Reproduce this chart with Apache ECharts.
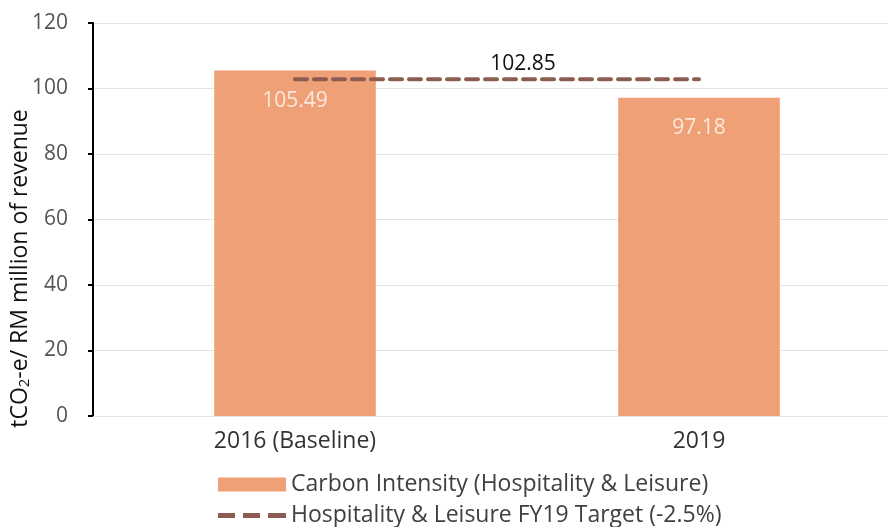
<!DOCTYPE html>
<html>
<head>
<meta charset="utf-8">
<script src="https://cdn.jsdelivr.net/npm/echarts@6/dist/echarts.min.js"></script>
<style>
  html, body { margin: 0; padding: 0; background: #ffffff; }
  #chart { width: 888px; height: 527px; }
</style>
</head>
<body>
<div id="chart"></div>
<script>
// Carbon intensity of the Hospitality & Leisure division vs. its FY19 target
const categories = ['2016 (Baseline)', '2019'];
const intensityValues = [105.49, 97.18];
const targetValues = [102.85, 102.85];
const yTicks = { min: 0, max: 120, interval: 20 };

const seriesNames = {
  bar: 'Carbon Intensity (Hospitality & Leisure)',
  line: 'Hospitality & Leisure FY19 Target (-2.5%)'
};

const FONT = '"Open Sans", Lato, sans-serif';
const TARGET_COLOR = '#8c5c52';

// three short dashes for the target line's legend key
const DASH_ICON = 'path://M0,0h17v5h-17z M25,0h17v5h-17z M50,0h18v5h-18z';

const chart = echarts.init(document.getElementById('chart'), null, { renderer: 'canvas' });

chart.setOption({
  backgroundColor: '#ffffff',
  animation: false,
  textStyle: { fontFamily: FONT },
  grid: { left: 93, right: -13, top: 23, bottom: 111, containLabel: false, outerBoundsMode: 'none' },
  legend: {
    orient: 'vertical',
    left: 213,
    top: 468,
    height: 60,
    itemWidth: 68,
    itemHeight: 14,
    itemGap: 8,
    textStyle: { fontFamily: FONT, fontSize: 23, color: '#404040', lineHeight: 23 },
    data: [
      { name: seriesNames.bar, icon: 'rect' },
      { name: seriesNames.line, icon: DASH_ICON, itemStyle: { color: TARGET_COLOR } }
    ]
  },
  xAxis: {
    type: 'category',
    data: categories,
    axisLine: { show: true, lineStyle: { color: '#dde5e5', width: 1 } },
    axisTick: { show: false },
    axisLabel: { fontFamily: FONT, fontSize: 23, color: '#333333', margin: 14 }
  },
  yAxis: {
    type: 'value',
    min: yTicks.min,
    max: yTicks.max,
    interval: yTicks.interval,
    name: '{a|tCO}{b|2}{a|-e/ RM million of revenue}',
    nameLocation: 'middle',
    nameGap: 60,
    nameMoveOverlap: false,
    nameTextStyle: {
      padding: [0, 98, 0, 0],
      rich: {
        a: { fontFamily: FONT, fontSize: 23, color: '#111111', lineHeight: 26 },
        b: { fontFamily: FONT, fontSize: 15, color: '#111111', lineHeight: 26, padding: [10, 0, 0, 0] }
      }
    },
    axisLine: { show: true, lineStyle: { color: '#000000', width: 2 } },
    axisTick: { show: true, length: 5, lineStyle: { color: '#000000', width: 2 } },
    axisLabel: { fontFamily: FONT, fontSize: 21, color: '#555555', margin: 25 },
    splitLine: { show: true, lineStyle: { color: '#dde5e5', width: 1 } }
  },
  series: [
    {
      name: seriesNames.bar,
      type: 'bar',
      data: intensityValues,
      barCategoryGap: '60%',
      itemStyle: { color: '#efa077' },
      label: {
        show: true,
        position: 'insideTop',
        distance: 20,
        fontFamily: FONT,
        fontSize: 21,
        color: '#fbe9dc',
        formatter: p => p.value.toFixed(2)
      }
    },
    {
      name: seriesNames.line,
      type: 'line',
      symbol: 'circle',
      symbolSize: 0.1,
      showSymbol: true,
      lineStyle: { color: TARGET_COLOR, width: 4, type: [12, 7], cap: 'round' },
      itemStyle: { color: TARGET_COLOR },
      data: [
        {
          value: targetValues[0],
          label: {
            show: true,
            position: 'top',
            offset: [228, 0],
            fontFamily: FONT,
            fontSize: 21,
            color: '#111111',
            formatter: p => p.value.toFixed(2)
          }
        },
        targetValues[1]
      ]
    }
  ]
});
</script>
</body>
</html>
